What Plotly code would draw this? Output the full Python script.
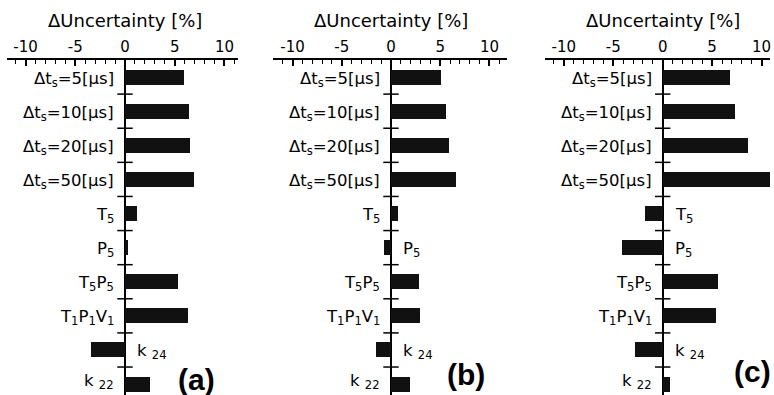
import plotly.graph_objects as go

# ---------------- data ----------------
categories = [
    "Δt<sub>s</sub>=5[μs]",
    "Δt<sub>s</sub>=10[μs]",
    "Δt<sub>s</sub>=20[μs]",
    "Δt<sub>s</sub>=50[μs]",
    "T<sub>5</sub>",
    "P<sub>5</sub>",
    "T<sub>5</sub>P<sub>5</sub>",
    "T<sub>1</sub>P<sub>1</sub>V<sub>1</sub>",
    "k <sub>24</sub>",
    "k <sub>22</sub>",
]
values_a = [5.9, 6.4, 6.5, 6.9, 1.2, 0.3, 5.3, 6.3, -3.4, 2.5]
values_b = [5.1, 5.55, 5.9, 6.6, 0.7, -0.7, 2.85, 2.95, -1.5, 1.95]
values_c = [6.8, 7.3, 8.6, 11.2, -1.75, -4.1, 5.6, 5.4, -2.8, 0.7]
panel_labels = ["(a)", "(b)", "(c)"]
tick_vals = [-10, -5, 0, 5, 10]
tick_text = ["-10", "-5", "0", "5", "10"]
axis_title = "ΔUncertainty [%]"

# ---------------- layout geometry ----------------
W, H = 774, 395
panels = [
    dict(vals=values_a, dom=(7, 238), rng=(-11.86, 11.36), lab_xy=(196, 379)),
    dict(vals=values_b, dom=(273, 507), rng=(-11.98, 11.78), lab_xy=(466, 374)),
    dict(vals=values_c, dom=(545, 770), rng=(-11.9, 10.85), lab_xy=(752, 371)),
]
plot_top = 60
ydom = (0, 1 - plot_top / H)
yrange = [9.32, -0.5]
ypos = list(range(len(categories)))
boundaries = [i + 0.5 for i in ypos[:-1]]

FONT = "DejaVu Sans"
fig = go.Figure()
annotations = []
layout = {}

for k, p in enumerate(panels):
    sfx = "" if k == 0 else str(k + 1)
    xa, ya = "x" + sfx, "y" + sfx
    fig.add_trace(go.Bar(
        x=p["vals"], y=ypos, orientation="h", width=0.44,
        marker=dict(color="#111111", line=dict(width=0)),
        xaxis=xa, yaxis=ya, showlegend=False, hoverinfo="skip",
    ))
    fig.add_trace(go.Scatter(
        x=[0] * len(boundaries), y=boundaries, mode="markers",
        marker=dict(symbol="line-ew", size=11, line=dict(width=1.5, color="black")),
        xaxis=xa, yaxis=ya, showlegend=False, hoverinfo="skip",
    ))
    layout["xaxis" + sfx] = dict(
        domain=[p["dom"][0] / W, p["dom"][1] / W], range=list(p["rng"]),
        anchor=ya, side="top", showline=True, linewidth=2, linecolor="black",
        ticks="inside", ticklen=6, tickwidth=1.5, tickcolor="black",
        tickmode="array", tickvals=tick_vals, ticktext=tick_text,
        tickfont=dict(family=FONT, size=15, color="black"),
        minor=dict(tickmode="linear", tick0=0, dtick=1, ticks="inside",
                   ticklen=4, tickwidth=1, tickcolor="black", showgrid=False),
        showgrid=False, zeroline=True, zerolinecolor="black", zerolinewidth=2,
        fixedrange=True,
    )
    layout["yaxis" + sfx] = dict(
        domain=list(ydom), range=yrange, anchor=xa, showgrid=False,
        zeroline=False, showticklabels=False, showline=False, ticks="",
        fixedrange=True,
    )
    # category labels next to the axis
    last = len(categories) - 1
    for cat, v, yy in zip(categories, p["vals"], ypos):
        neg = v < 0
        annotations.append(dict(
            x=0, y=yy, xref=xa, yref=ya, text=cat, showarrow=False,
            xanchor="left" if neg else "right", yanchor="middle",
            xshift=10 if neg else -9, yshift=3 if yy == last else -2,
            font=dict(family=FONT, size=16.5, color="black"),
        ))
    # axis title
    annotations.append(dict(
        x=0, y=1 - 21 / H, xref=xa, yref="paper", text=axis_title,
        showarrow=False, xanchor="center", yanchor="middle",
        font=dict(family=FONT, size=18, color="black"),
    ))
    # panel label
    annotations.append(dict(
        x=p["lab_xy"][0] / W, y=1 - p["lab_xy"][1] / H, xref="paper", yref="paper",
        text="<b>" + panel_labels[k] + "</b>", showarrow=False,
        xanchor="center", yanchor="middle",
        font=dict(family="Liberation Sans", size=30, color="black"),
    ))

fig.update_layout(
    width=W, height=H, margin=dict(l=0, r=0, t=0, b=0),
    paper_bgcolor="white", plot_bgcolor="white",
    annotations=annotations, showlegend=False, bargap=0,
    **layout,
)

fig.write_html("out.html", config={"displayModeBar": False})
